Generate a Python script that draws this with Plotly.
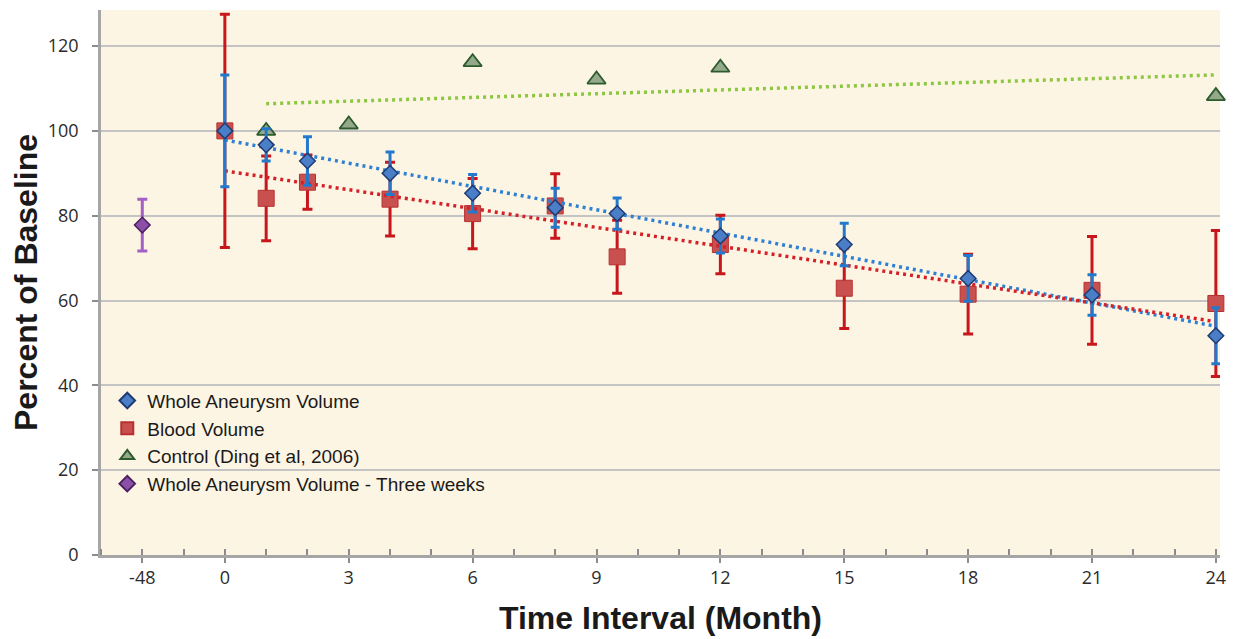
import numpy as np
import plotly.graph_objects as go

# ---------------- data ----------------
months = [0, 1, 2, 4, 6, 8, 9.5, 12, 15, 18, 21, 24]

whole_volume = [100, 96.7, 92.9, 90.0, 85.3, 81.9, 80.5, 75.2, 73.2, 65.2, 61.3, 51.7]
whole_err = [13.2, 3.8, 5.7, 5.0, 4.4, 4.6, 3.7, 4.0, 5.0, 5.4, 4.8, 6.6]

blood_volume = [100, 84.1, 87.9, 83.9, 80.5, 82.3, 70.3, 73.2, 62.9, 61.5, 62.4, 59.3]
blood_err = [27.5, 10.0, 6.4, 8.7, 8.3, 7.6, 8.6, 6.9, 9.5, 9.4, 12.7, 17.2]

control_months = [1, 3, 6, 9, 12, 24]
control_values = [100.0, 101.5, 116.2, 112.1, 114.9, 108.2]

three_week_month = [-48]
three_week_value = [77.8]
three_week_err = [6.1]

# x-axis is broken: the -48 month point sits two slots left of month 0
x_tick_text = ["-48", "0", "3", "6", "9", "12", "15", "18", "21", "24"]
x_tick_vals = [-2, 0, 3, 6, 9, 12, 15, 18, 21, 24]
axis_break = {-48: -2}

y_tick_vals = [0, 20, 40, 60, 80, 100, 120]

x_title = "Time Interval (Month)"
y_title = "Percent of Baseline"

# ---------------- styling ----------------
BLUE_FILL, BLUE_EDGE, BLUE_ERR, BLUE_TREND = "#4A7EC6", "#1F3A73", "#2379CC", "#2E80D3"
RED_FILL, RED_EDGE, RED_ERR, RED_TREND = "#C8504E", "#B83030", "#C8161D", "#D42027"
GREEN_FILL, GREEN_EDGE, GREEN_TREND = "#93A98A", "#2E5B2E", "#8DC63F"
PURPLE_FILL, PURPLE_EDGE, PURPLE_ERR = "#8B4FA8", "#4B2060", "#A35FC6"

TICK_FONT = dict(family="Open Sans, Arial, sans-serif", size=18, color="#2b2b2b")
TITLE_FONT = dict(family="Liberation Sans, Arial, sans-serif", size=32, color="#1a1a1a")
LEGEND_FONT = dict(family="Liberation Sans, Arial, sans-serif", size=19, color="#1a1a1a")


def trend(xs, ys):
    slope, intercept = np.polyfit(xs, ys, 1)
    xx = np.array([min(xs), max(xs)], dtype=float)
    return xx, slope * xx + intercept


fig = go.Figure()

# control triangles
fig.add_trace(go.Scatter(
    x=control_months, y=control_values, mode="markers",
    name="Control (Ding et al, 2006)", legendrank=3,
    marker=dict(symbol="triangle-up", size=16, color=GREEN_FILL,
                line=dict(color=GREEN_EDGE, width=1.8)),
    cliponaxis=False,
))

# blood volume squares
fig.add_trace(go.Scatter(
    x=months, y=blood_volume, mode="markers",
    name="Blood Volume", legendrank=2,
    marker=dict(symbol="square", size=16, color=RED_FILL,
                line=dict(color=RED_EDGE, width=1)),
    error_y=dict(type="data", array=blood_err, color=RED_ERR, thickness=3, width=5),
    cliponaxis=False,
))

# three weeks
fig.add_trace(go.Scatter(
    x=[axis_break[m] for m in three_week_month], y=three_week_value, mode="markers",
    name="Whole Aneurysm Volume - Three weeks", legendrank=4,
    marker=dict(symbol="diamond", size=12, color=PURPLE_FILL,
                line=dict(color=PURPLE_EDGE, width=1.5)),
    error_y=dict(type="data", array=three_week_err, color=PURPLE_ERR, thickness=3, width=5),
    cliponaxis=False,
))

# trend lines
for xs, ys, col in [(months, whole_volume, BLUE_TREND),
                    (months, blood_volume, RED_TREND),
                    (control_months, control_values, GREEN_TREND)]:
    tx, ty = trend(xs, ys)
    fig.add_trace(go.Scatter(
        x=tx, y=ty, mode="lines", showlegend=False, hoverinfo="skip",
        line=dict(color=col, width=3.5, dash="3px,4px"),
    ))

# whole aneurysm volume diamonds
fig.add_trace(go.Scatter(
    x=months, y=whole_volume, mode="markers",
    name="Whole Aneurysm Volume", legendrank=1,
    marker=dict(symbol="diamond", size=12, color=BLUE_FILL,
                line=dict(color=BLUE_EDGE, width=1.5)),
    error_y=dict(type="data", array=whole_err, color=BLUE_ERR, thickness=3, width=4.5),
    cliponaxis=False,
))

fig.add_annotation(
    text="<b>" + x_title + "</b>", font=TITLE_FONT,
    xref="paper", yref="paper", x=0.5, y=0,
    xanchor="center", yanchor="middle", yshift=-63, showarrow=False,
)

fig.update_layout(
    width=1218, height=631,
    margin=dict(l=93, r=6, t=2, b=84),
    paper_bgcolor="white",
    plot_bgcolor="#FDF5E4",
    showlegend=True,
    legend=dict(
        x=0.0056, y=0.318, xanchor="left", yanchor="top",
        bgcolor="rgba(0,0,0,0)", font=LEGEND_FONT,
        traceorder="normal", itemsizing="constant",
    ),
    xaxis=dict(
        range=[-3, 24.1], automargin=False,
        tickmode="array", tickvals=x_tick_vals, ticktext=x_tick_text,
        tickfont=TICK_FONT,
        ticks="outside", ticklen=5, tickwidth=1.5, tickcolor="#8c8c8c",
        showline=True, linecolor="#a6a6a6", linewidth=2.5,
        showgrid=False, zeroline=False,
        ticklabeloverflow="allow",
        minor=dict(tickmode="linear", tick0=0, dtick=1, ticks="inside",
                   ticklen=6, tickwidth=1.5, tickcolor="#8c8c8c"),
    ),
    yaxis=dict(
        range=[0, 128.5], automargin=False,
        tickmode="array", tickvals=y_tick_vals,
        tickfont=TICK_FONT,
        ticks="outside", ticklen=6, tickwidth=1.5, tickcolor="#8c8c8c",
        showline=True, linecolor="#a6a6a6", linewidth=2.5,
        showgrid=True, gridcolor="#c4c4c4", gridwidth=1.5,
        zeroline=False,
        ticklabelstandoff=10,
        title=dict(text="<b>" + y_title + "</b>", font=TITLE_FONT, standoff=3),
    ),
)

fig.write_html("out.html")
